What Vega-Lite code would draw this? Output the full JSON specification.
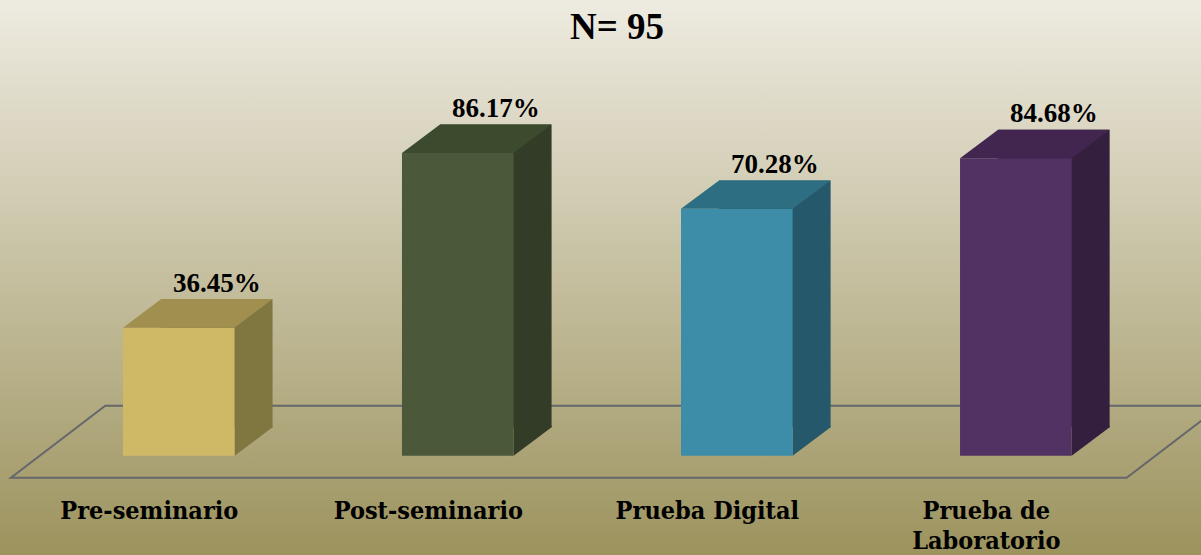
{
  "$schema": "https://vega.github.io/schema/vega-lite/v6.json",
  "width": 1201,
  "height": 555,
  "padding": 0,
  "autosize": {"type": "none"},
  "background": "#9b915d",
  "config": {
    "view": {
      "stroke": null,
      "fill": {"gradient": "linear", "x1": 0, "y1": 0, "x2": 0, "y2": 1,
        "stops": [{"offset": 0, "color": "#eeebe1"}, {"offset": 1, "color": "#9c935e"}]}
    }
  },
  "title": {
    "text": "N= 95",
    "font": "Liberation Serif",
    "fontSize": 37,
    "fontWeight": "bold",
    "color": "#000000",
    "anchor": "middle",
    "frame": "group",
    "baseline": "alphabetic",
    "offset": -40.7,
    "dx": 16.5,
    "dy": 35.7
  },
  "data": {
    "values": [
      {"cat": "Pre-seminario", "value": 0.3645},
      {"cat": "Post-seminario", "value": 0.8617},
      {"cat": "Prueba Digital", "value": 0.7028},
      {"cat": "Prueba de Laboratorio", "value": 0.8468}
    ]
  },
  "encoding": {
    "x": {
      "field": "cat",
      "type": "nominal",
      "sort": null,
      "scale": {"type": "band", "paddingInner": 0.6, "paddingOuter": 0.4521, "align": 0.4873},
      "axis": {
        "orient": "bottom",
        "offset": -77,
        "title": null,
        "domain": false,
        "ticks": false,
        "tickSize": 0,
        "grid": false,
        "labelAngle": 0,
        "labelFont": "DejaVu Serif Condensed",
        "labelFontWeight": "bold",
        "labelFontSize": 25,
        "labelColor": "#000000",
        "labelBaseline": "alphabetic",
        "labelPadding": 40,
        "labelOffset": -29.5,
        "labelLineHeight": 30,
        "labelLimit": 0,
        "labelOverlap": false,
        "labelBound": false,
        "labelFlush": false,
        "labelExpr": "datum.label == 'Prueba de Laboratorio' ? ['Prueba de', 'Laboratorio'] : datum.label"
      }
    },
    "y": {
      "field": "value",
      "type": "quantitative",
      "scale": {"domain": [-0.28266, 1.29718], "nice": false, "zero": false},
      "axis": null
    }
  },
  "layer": [
    {
      "transform": [{"filter": "datum.cat == 'Pre-seminario'"}],
      "mark": {"type": "point", "shape": "M-167.8,22L947.9,22L1042.2,-50L-73.5,-50Z", "size": 4, "filled": false, "stroke": "#65676b", "strokeWidth": 2, "opacity": 1},
      "encoding": {"y": {"datum": 0, "type": "quantitative"}}
    },
    {
      "mark": {"type": "bar", "xOffset": 38, "x2Offset": 38, "yOffset": -28.4, "y2Offset": -28.4},
      "encoding": {
        "y2": {"datum": 0},
        "color": {"field": "cat", "type": "nominal", "legend": null,
          "scale": {"domain": ["Pre-seminario", "Post-seminario", "Prueba Digital", "Prueba de Laboratorio"], "range": ["#807640", "#323c26", "#26586b", "#351f3e"]}}
      }
    },
    {
      "mark": {"type": "point", "shape": "M55.8,-30L93.8,-30L93.8,-28.4L55.8,0Z", "size": 4, "filled": true, "strokeWidth": 0, "opacity": 1},
      "encoding": {
        "y": {"datum": 0, "type": "quantitative"},
        "color": {"field": "cat", "type": "nominal", "legend": null,
          "scale": {"domain": ["Pre-seminario", "Post-seminario", "Prueba Digital", "Prueba de Laboratorio"], "range": ["#807640", "#323c26", "#26586b", "#351f3e"]}}
      }
    },
    {
      "mark": {"type": "bar"},
      "encoding": {
        "y2": {"datum": 0},
        "color": {"field": "cat", "type": "nominal", "legend": null,
          "scale": {"domain": ["Pre-seminario", "Post-seminario", "Prueba Digital", "Prueba de Laboratorio"], "range": ["#cfb866", "#4b593a", "#3d8ca8", "#523262"]}}
      }
    },
    {
      "mark": {"type": "point", "shape": "M-55.8,0L55.8,0L93.8,-28.4L-17.8,-28.4Z", "size": 4, "filled": true, "strokeWidth": 0, "opacity": 1},
      "encoding": {
        "color": {"field": "cat", "type": "nominal", "legend": null,
          "scale": {"domain": ["Pre-seminario", "Post-seminario", "Prueba Digital", "Prueba de Laboratorio"], "range": ["#a08f4f", "#3c4a2e", "#2d6e82", "#422650"]}}
      }
    },
    {
      "mark": {"type": "text", "dx": 38, "dy": -36, "baseline": "alphabetic", "align": "center", "font": "Liberation Serif", "fontSize": 27, "fontWeight": "bold", "color": "#000000"},
      "encoding": {
        "text": {"field": "value", "type": "quantitative", "format": ".2%"}
      }
    }
  ],
  "resolve": {"scale": {"color": "independent"}}
}
